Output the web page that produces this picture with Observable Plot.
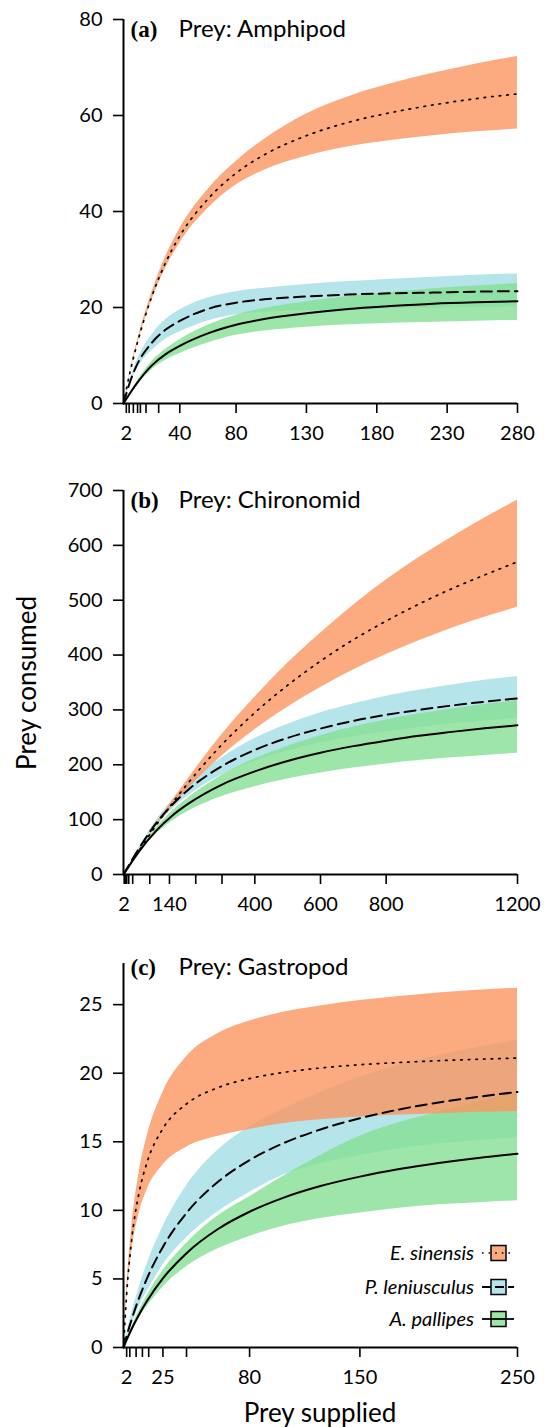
<!DOCTYPE html>
<html><head><meta charset="utf-8">
<script src="https://cdn.jsdelivr.net/npm/d3@7"></script>
<script src="https://cdn.jsdelivr.net/npm/@observablehq/plot@0.6"></script>
<style>
body{margin:0;background:#fff;}
#wrap{position:relative;width:544px;height:1427px;font-family:Lato,sans-serif;color:#000;overflow:hidden;}
.panel{position:absolute;left:0;}
.lab{position:absolute;font-size:26px;white-space:nowrap;line-height:1;}
.leg{position:absolute;font-size:20px;font-style:italic;white-space:nowrap;text-align:right;}
.sw{position:absolute;}
</style></head><body><div id="wrap"></div>
<script>
const species = ["E. sinensis", "P. leniusculus", "A. pallipes"];
const fills = ["#fb9560", "#a3dfe5", "#84df92"];
const swatchFills = ["#fcaa80", "#b5e5ea", "#9de5a8"];
const dashes = ["1.6,6", "11,6", null];

// Panel (a) Amphipod
const xA = [0, 5, 10, 20, 30, 40, 60, 80, 100, 130, 160, 190, 220, 250, 280];
const esMidA = [0, 7.0, 12.8, 22.2, 29.4, 34.9, 42.6, 48.0, 51.8, 55.8, 58.6, 60.6, 62.2, 63.5, 64.5];
const esUpA  = [0, 7.2, 13.2, 23.0, 30.6, 36.4, 44.6, 50.4, 55.0, 60.3, 63.9, 66.6, 68.8, 70.7, 72.3];
const esLoA  = [0, 6.8, 12.4, 21.4, 28.2, 33.4, 40.6, 45.5, 48.6, 51.5, 53.5, 54.8, 55.8, 56.6, 57.2];
const plMidA = [0, 4.8, 8.3, 12.6, 15.4, 17.2, 19.7, 21.0, 21.7, 22.3, 22.7, 22.95, 23.1, 23.3, 23.4];
const plUpA  = [0, 5.2, 9.2, 14.2, 17.5, 19.5, 22.0, 23.3, 24.0, 24.8, 25.4, 25.9, 26.3, 26.7, 27.0];
const plLoA  = [0, 4.4, 7.4, 11.0, 13.4, 14.9, 17.2, 18.5, 19.0, 19.4, 19.6, 19.8, 19.9, 20.0, 20.1];
const apMidA = [0, 2.3, 4.4, 7.9, 10.3, 12.0, 14.6, 16.4, 17.6, 18.8, 19.7, 20.3, 20.8, 21.1, 21.3];
const apUpA  = [0, 2.5, 4.8, 8.7, 11.3, 13.3, 16.3, 18.4, 19.8, 21.2, 22.3, 23.1, 23.9, 24.5, 25.0];
const apLoA  = [0, 2.1, 4.0, 7.0, 9.0, 10.4, 12.6, 14.2, 15.1, 15.9, 16.4, 16.7, 16.95, 17.15, 17.3];
const xTicksA = [2, 4, 7, 10, 12, 16, 25, 40, 80, 130, 180, 230, 280];
const xLabelsA = [2, 40, 80, 130, 180, 230, 280];
const yTicksA = [0, 20, 40, 60, 80];

// Panel (b) Chironomid
const xB = [0, 50, 100, 150, 200, 300, 400, 500, 600, 700, 800, 900, 1000, 1100, 1200];
const esMidB = [0, 46, 90, 131, 169, 237, 295, 345, 389, 428, 462, 493, 521, 546, 570];
const esUpB  = [0, 47, 93, 136, 177, 255, 323, 385, 440, 491, 537, 578, 615, 650, 682];
const esLoB  = [0, 45, 87, 124, 158, 216, 264, 305, 341, 373, 401, 426, 449, 469, 487];
const plMidB = [0, 50, 94, 128, 156, 197.5, 227, 249, 266, 280, 291, 300, 308, 315, 321];
const plUpB  = [0, 52, 99, 136, 167, 213, 248, 274, 295, 311, 325, 336, 345.5, 354, 361];
const plLoB  = [0, 48, 89, 120, 145, 181.5, 206.5, 225, 240, 251, 260, 268, 275, 280, 285];
const apMidB = [0, 44, 80, 108, 130, 164, 188, 207, 222, 234, 244, 253, 260, 266.5, 272];
const apUpB  = [0, 46, 85, 116, 141, 181, 211, 234, 253, 268.7, 281.6, 292.5, 301.8, 310, 317];
const apLoB  = [0, 42, 74, 98, 116, 142, 160, 174, 185, 194, 201.5, 207.6, 212.7, 217, 221];
const xTicksB = [2, 4, 6, 8, 10, 16, 28, 80, 140, 220, 300, 400, 600, 800, 1200];
const xLabelsB = [2, 140, 400, 600, 800, 1200];
const yTicksB = [0, 100, 200, 300, 400, 500, 600, 700];

// Panel (c) Gastropod
const xC = [0, 2, 5, 10, 15, 25, 40, 60, 80, 100, 125, 150, 175, 200, 225, 250];
const esMidC = [0, 3.88, 7.66, 11.35, 13.52, 15.96, 17.76, 18.95, 19.61, 20.03, 20.38, 20.62, 20.78, 20.91, 21.02, 21.1];
const esUpC  = [0, 4.2, 8.5, 12.8, 15.4, 18.6, 21.2, 22.9, 23.8, 24.4, 24.9, 25.3, 25.6, 25.85, 26.05, 26.2];
const esLoC  = [0, 3.5, 6.8, 9.8, 11.5, 13.3, 14.6, 15.4, 15.9, 16.3, 16.6, 16.8, 16.95, 17.05, 17.15, 17.2];
const plMidC = [0, 0.84, 1.98, 3.65, 5.06, 7.33, 9.81, 12.08, 13.66, 14.82, 15.9, 16.72, 17.36, 17.87, 18.28, 18.63];
const plUpC  = [0, 1.0, 2.4, 4.4, 6.1, 8.8, 11.8, 14.4, 16.1, 17.3, 18.6, 19.7, 20.6, 21.3, 21.9, 22.4];
const plLoC  = [0, 0.7, 1.6, 3.0, 4.1, 6.0, 8.0, 9.9, 11.3, 12.5, 13.4, 14.0, 14.5, 14.85, 15.1, 15.3];
const apMidC = [0, 0.55, 1.31, 2.43, 3.41, 5.04, 6.88, 8.64, 9.9, 10.86, 11.77, 12.46, 13.01, 13.45, 13.82, 14.13];
const apUpC  = [0, 0.6, 1.45, 2.7, 3.8, 5.6, 7.6, 9.6, 11.0, 12.4, 14.0, 15.4, 16.4, 17.15, 17.9, 18.6];
const apLoC  = [0, 0.5, 1.15, 2.15, 3.0, 4.4, 5.9, 7.2, 8.1, 8.8, 9.4, 9.8, 10.15, 10.4, 10.55, 10.7];
const xTicksC = [2, 4, 8, 12, 16, 25, 40, 80, 150, 250];
const xLabelsC = [2, 25, 80, 150, 250];
const yTicksC = [0, 5, 10, 15, 20, 25];

function rows(x, lo, mid, hi) {
  return x.map((v, i) => ({x: v, lo: lo[i], mid: mid[i], hi: hi[i]}));
}

function panel(cfg) {
  const es = rows(cfg.x, cfg.es[0], cfg.es[1], cfg.es[2]);
  const pl = rows(cfg.x, cfg.pl[0], cfg.pl[1], cfg.pl[2]);
  const ap = rows(cfg.x, cfg.ap[0], cfg.ap[1], cfg.ap[2]);
  const series = [es, pl, ap];
  const order = [1, 2, 0];
  const marks = [];
  for (const k of order) {
    marks.push(Plot.areaY(series[k], {x: "x", y1: "lo", y2: "hi", fill: fills[k], fillOpacity: 0.8, curve: "monotone-x"}));
  }
  for (const k of [0, 1, 2]) {
    marks.push(Plot.lineY(series[k], {x: "x", y: "mid", stroke: "black", strokeWidth: k === 0 ? 1.7 : 2, strokeDasharray: dashes[k], curve: "monotone-x"}));
  }
  marks.push(Plot.axisY(cfg.yTicks, {tickSize: 10, tickPadding: 11, strokeWidth: 1.6, label: null}));
  marks.push(Plot.axisX(cfg.xTicks, {tickSize: 10, tickPadding: 12, strokeWidth: 1.6, label: null,
    tickFormat: d => cfg.xLabels.includes(d) ? String(d) : ""}));
  marks.push(Plot.ruleY([0], {x1: 0, x2: cfg.xmax, strokeWidth: 2}));
  marks.push(Plot.ruleX([0], {y1: 0, y2: cfg.ymax, strokeWidth: 2}));
  marks.push(Plot.text([cfg.tag], {text: d => d, frameAnchor: "top-left", dx: 7, dy: cfg.titleDy, textAnchor: "start", lineAnchor: "bottom", fontFamily: "Liberation Serif", fontWeight: "bold", fontSize: 23}));
  marks.push(Plot.text([cfg.title], {text: d => d, frameAnchor: "top-left", dx: 55, dy: cfg.titleDy, textAnchor: "start", lineAnchor: "bottom", fontSize: 24}));
  const svg = Plot.plot({
    width: 544, height: cfg.height,
    marginLeft: 123, marginRight: 27, marginTop: cfg.mt, marginBottom: cfg.mb,
    style: {fontFamily: "Lato, sans-serif", fontSize: "20px", color: "black", background: "white", overflow: "visible"},
    x: {domain: [0, cfg.xmax]},
    y: {domain: [0, cfg.ymax]},
    marks
  });
  svg.classList.add("panel");
  svg.style.top = cfg.top + "px";
  return svg;
}

const wrap = document.getElementById("wrap");
wrap.appendChild(panel({top: 0, height: 470, mt: 19, mb: 67, x: xA, xmax: 280, ymax: 80,
  es: [esLoA, esMidA, esUpA], pl: [plLoA, plMidA, plUpA], ap: [apLoA, apMidA, apUpA],
  xTicks: xTicksA, xLabels: xLabelsA, yTicks: yTicksA, tag: "(a)", title: "Prey: Amphipod", titleDy: 17}));
wrap.appendChild(panel({top: 470, height: 470, mt: 20, mb: 66, x: xB, xmax: 1200, ymax: 700,
  es: [esLoB, esMidB, esUpB], pl: [plLoB, plMidB, plUpB], ap: [apLoB, apMidB, apUpB],
  xTicks: xTicksB, xLabels: xLabelsB, yTicks: yTicksB, tag: "(b)", title: "Prey: Chironomid", titleDy: 17}));
wrap.appendChild(panel({top: 940, height: 487, mt: 23, mb: 80, x: xC, xmax: 250, ymax: 28,
  es: [esLoC, esMidC, esUpC], pl: [plLoC, plMidC, plUpC], ap: [apLoC, apMidC, apUpC],
  xTicks: xTicksC, xLabels: xLabelsC, yTicks: yTicksC, tag: "(c)", title: "Prey: Gastropod", titleDy: 11}));

// axis titles
const yl = document.createElement("div");
yl.className = "lab"; yl.textContent = "Prey consumed";
yl.style.left = "26px"; yl.style.top = "683px";
yl.style.transform = "translate(-50%,-50%) rotate(-90deg)";
wrap.appendChild(yl);
const xl = document.createElement("div");
xl.className = "lab"; xl.textContent = "Prey supplied";
xl.style.left = "320px"; xl.style.top = "1399px";
xl.style.transform = "translate(-50%,0)";
wrap.appendChild(xl);

// legend
const legY = [1253, 1287, 1319];
species.forEach((s, i) => {
  const t = document.createElement("div");
  t.className = "leg"; t.textContent = s;
  t.style.right = (544 - 474) + "px"; t.style.top = (legY[i] - 13) + "px";
  wrap.appendChild(t);
  const ns = "http://www.w3.org/2000/svg";
  const sv = document.createElementNS(ns, "svg");
  sv.setAttribute("width", 34); sv.setAttribute("height", 22);
  sv.setAttribute("class", "sw");
  sv.style.left = "481px"; sv.style.top = (legY[i] - 11) + "px";
  const r = document.createElementNS(ns, "rect");
  r.setAttribute("x", 10); r.setAttribute("y", 3.5); r.setAttribute("width", 15); r.setAttribute("height", 15);
  r.setAttribute("fill", swatchFills[i]); r.setAttribute("stroke", "black"); r.setAttribute("stroke-width", 1.5);
  sv.appendChild(r);
  const l = document.createElementNS(ns, "line");
  l.setAttribute("x1", 1); l.setAttribute("x2", 33); l.setAttribute("y1", 11); l.setAttribute("y2", 11);
  l.setAttribute("stroke", "black"); l.setAttribute("stroke-width", i === 0 ? 1.7 : 1.8);
  if (dashes[i]) l.setAttribute("stroke-dasharray", i === 0 ? "1.6,5" : "9,4");
  sv.appendChild(l);
  wrap.appendChild(sv);
});
</script></body></html>
